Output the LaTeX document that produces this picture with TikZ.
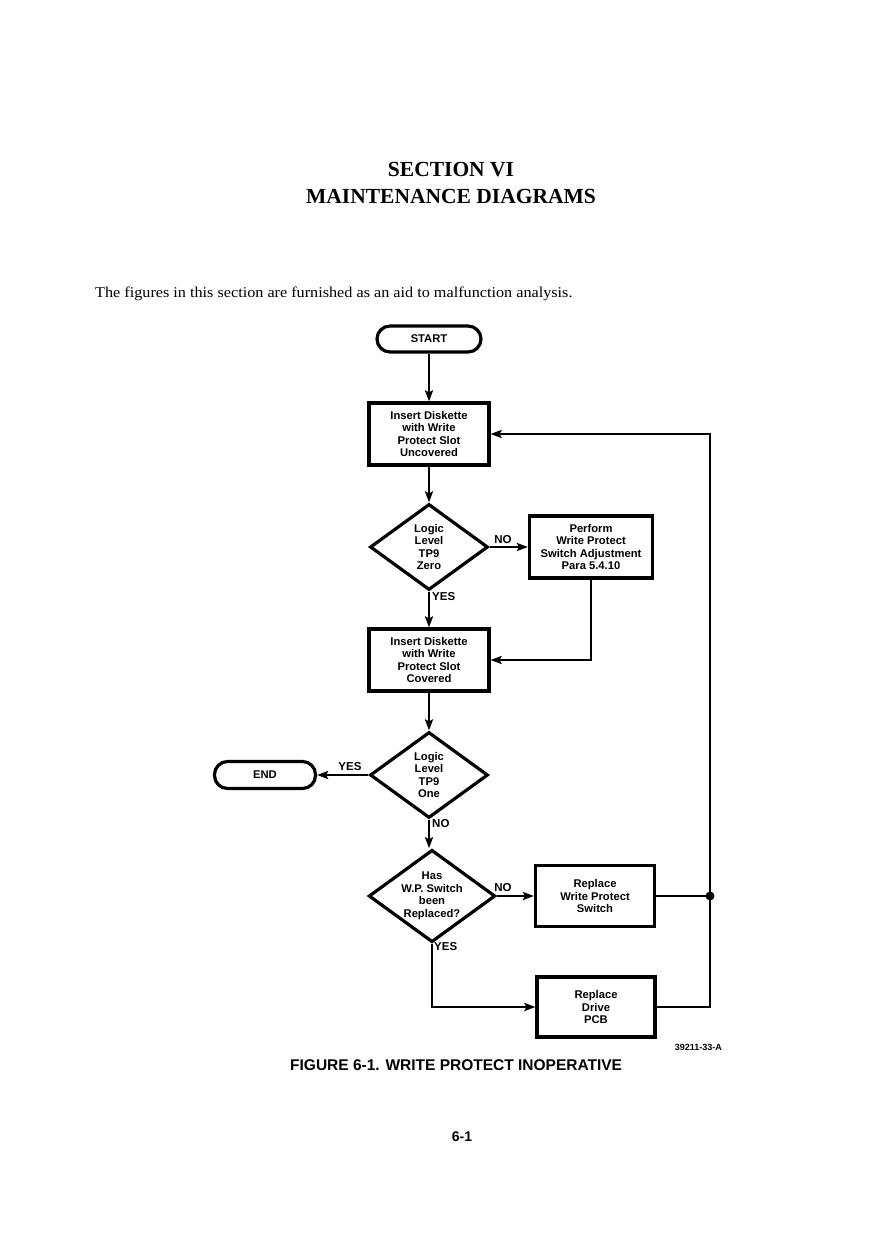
\documentclass[tikz,border=0pt]{standalone}
\usepackage{fontspec}
\setmainfont{Liberation Serif}
\setsansfont{Liberation Sans}
\newfontfamily\souv{Liberation Serif}[FakeStretch=1.08]
\usetikzlibrary{shapes.geometric,arrows.meta}
\begin{document}
\begin{tikzpicture}[x=1pt,y=-1pt,
 ftxt/.style={font=\sffamily\bfseries\fontsize{11.2}{12.5}\selectfont},
 box/.style={ftxt,draw,line width=3.2pt,minimum width=120pt,minimum height=62pt,align=center,inner sep=0pt},
 term/.style={ftxt,draw,line width=3.2pt,rounded corners=13pt,minimum width=104pt,minimum height=26pt,inner sep=0pt},
 dia/.style={ftxt,draw,diamond,line width=3.2pt,minimum width=118pt,minimum height=86pt,shape aspect=1.37,inner sep=0pt,align=center},
 conn/.style={line width=2.6pt},
 arr/.style={conn,-{Stealth[length=11pt,width=8pt,inset=2pt]}},
 lbl/.style={font=\sffamily\bfseries\fontsize{11.5}{12}\selectfont,inner sep=0pt}
]
\useasboundingbox (0,0) rectangle (892,1260);
\fill[white] (0,0) rectangle (892,1260);

% headings
\node[font=\bfseries\fontsize{21.5}{24}\selectfont] (t1) at (451,170) {SECTION VI};
\node[font=\bfseries\fontsize{21.5}{24}\selectfont] (t2) at (451,196) {MAINTENANCE DIAGRAMS};
\node[anchor=west,font=\souv\fontsize{15}{16}\selectfont,inner sep=0pt] (intro) at (95,294) {The figures in this section are furnished as an aid to malfunction analysis.};

% nodes
\node[term] (start) at (429,339) {START};
\node[box] (b1) at (429,434) {Insert Diskette\\with Write\\Protect Slot\\Uncovered};
\node[dia] (d1) at (429,547) {Logic\\Level\\TP9\\Zero};
\node[box,minimum width=123pt] (perf) at (591,547) {Perform\\Write Protect\\Switch Adjustment\\Para 5.4.10};
\node[box] (b2) at (429,660) {Insert Diskette\\with Write\\Protect Slot\\Covered};
\node[dia] (d2) at (429,775) {Logic\\Level\\TP9\\One};
\node[term,minimum width=101pt,minimum height=27pt] (endn) at (265,775) {END};
\node[dia,minimum width=117pt] (d3) at (432,896) {Has\\W.P. Switch\\been\\Replaced?};
\node[box,minimum width=119pt,minimum height=61pt] (rws) at (595,896) {Replace\\Write Protect\\Switch};
\node[box,minimum width=118pt,minimum height=60pt] (rpcb) at (596,1007) {Replace\\Drive\\PCB};

\coordinate (bust) at (710,434);
\coordinate (busj) at (710,896);
\coordinate (busb) at (710,1007);

% connectors
\draw[arr] (start) -- (b1);
\draw[arr] (b1) -- (d1);
\draw[arr] (d1.east) -- (perf.west);
\draw[arr] (d1.south) -- (b2.north);
\draw[arr] (perf.south) |- (b2.east);
\draw[arr] (b2) -- (d2);
\draw[arr] (d2.west) -- (endn.east);
\draw[arr] (d2.south) -- (d3.north -| d2.south);
\draw[arr] (d3.east) -- (rws.west);
\draw[arr] (d3.south) |- (rpcb.west);
\draw[conn] (rws.east) -- (busj);
\draw[arr] (rpcb.east) -- (busb) -- (bust) -- (b1.east);
\fill (busj) circle (4.5pt);

% labels
\node[lbl] (l1) at (503,540) {NO};
\node[lbl,anchor=west] (l2) at (432,597) {YES};
\node[lbl] (l3) at (350,767) {YES};
\node[lbl,anchor=west] (l4) at (432,824) {NO};
\node[lbl] (l5) at (503,888) {NO};
\node[lbl,anchor=west] (l6) at (434,947) {YES};

% captions
\node[font=\sffamily\bfseries\fontsize{9}{10}\selectfont,anchor=east,inner sep=0pt] (code) at (722,1047) {39211-33-A};
\node[font=\sffamily\bfseries\fontsize{15.5}{17}\selectfont,anchor=west,inner sep=0pt] (cap) at (290,1065) {FIGURE 6-1. WRITE PROTECT INOPERATIVE};
\node[font=\sffamily\bfseries\fontsize{14}{16}\selectfont] (pg) at (462,1137) {6-1};
\end{tikzpicture}
\end{document}
